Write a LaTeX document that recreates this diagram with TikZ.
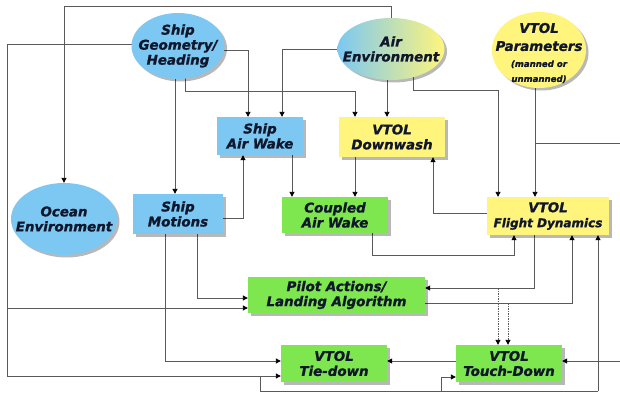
\documentclass[tikz,border=0pt]{standalone}
\usepackage{fontspec}
\setmainfont{DejaVu Sans}[BoldItalicFeatures={FakeBold=1.2}]
\usetikzlibrary{arrows.meta,shapes.geometric,shadows,backgrounds}

\definecolor{skyfill}{HTML}{7CC8F2}
\definecolor{lemonfill}{HTML}{FFF57C}
\definecolor{limefill}{HTML}{7EE64F}
\definecolor{inkcol}{HTML}{10162B}
\definecolor{wirecol}{HTML}{5A5A5A}

\tikzset{
  lbl/.style={font=\fontsize{13.4}{15}\selectfont\bfseries\itshape,
    text=inkcol, align=center, inner sep=0pt},
  softshadow/.style={drop shadow={shadow xshift=2.5pt, shadow yshift=-2.5pt,
    fill=black, opacity=0.28}},
  boxnode/.style={lbl, rectangle, softshadow},
  bluebox/.style={boxnode, fill=skyfill},
  yellowbox/.style={boxnode, fill=lemonfill},
  greenbox/.style={boxnode, fill=limefill},
  ovalnode/.style={ellipse, inner sep=0pt, softshadow},
  line/.style={draw=wirecol, line width=0.9pt},
  wire/.style={line, -{Triangle[length=5pt,width=5pt,color=black]}},
  dotwire/.style={wire, dash pattern=on 1.5pt off 1pt},
}

\begin{document}
\begin{tikzpicture}[x=1pt,y=-1pt]
\useasboundingbox (0,0) rectangle (620,393);

% ---- sources (ellipses) ----
\node[ovalnode, fill=skyfill, minimum width=93pt, minimum height=66pt,
  label={[lbl]center:{Ship\\Geometry/\\Heading}}] (geo) at (178,46) {};
\node[ovalnode, left color=skyfill, right color=lemonfill,
  minimum width=107pt, minimum height=62pt,
  label={[lbl]center:{Air\\Environment}}] (air) at (391,49) {};
\node[ovalnode, fill=lemonfill, minimum width=94pt, minimum height=76pt,
  label={[lbl, yshift=-3pt]center:{VTOL\\[3pt]Parameters\\[1pt]\fontsize{8.6}{10.5}\selectfont(manned or\\\fontsize{8.6}{10.5}\selectfont unmanned)}}] (par) at (539,50) {};
\node[ovalnode, fill=skyfill, minimum width=106pt, minimum height=72pt,
  label={[lbl]center:{Ocean\\Environment}}] (ocean) at (64,219) {};

% ---- process boxes ----
\node[bluebox, minimum width=86pt, minimum height=38pt] (saw) at (260,136) {Ship\\Air Wake};
\node[yellowbox, minimum width=106pt, minimum height=40pt] (dw) at (392,137) {VTOL\\Downwash};
\node[bluebox, minimum width=90pt, minimum height=40pt] (sm) at (178,214) {Ship\\Motions};
\node[greenbox, minimum width=106pt, minimum height=36pt] (caw) at (335,215) {Coupled\\Air Wake};
\node[yellowbox, minimum width=122pt, minimum height=38pt] (fd) at (548,216)
  {VTOL\\\fontsize{12}{14}\selectfont Flight Dynamics};
\node[greenbox, minimum width=177pt, minimum height=36pt] (pil) at (336.5,295) {Pilot Actions/\\Landing Algorithm};
\node[greenbox, minimum width=106pt, minimum height=37pt] (tie) at (334,363.5) {VTOL\\Tie-down};
\node[greenbox, minimum width=106pt, minimum height=37pt] (td) at (509,363.5) {VTOL\\Touch-Down};

% ---- junction points of the wiring ----
\coordinate (spineTop) at (7,44);
\coordinate (spineBot) at (7,376);
\coordinate (spinePil) at (7,308);
\coordinate (railStart) at (260,376);
\coordinate (railTd) at (441,391);
\coordinate (railFd) at (598,391);
\coordinate (fdPilTap) at (498,288);
\coordinate (pilFdTap) at (508,303);
\coordinate (parTap) at (535,143);

\begin{pgfonlayer}{background}
\fill[white] (0,0) rectangle (620,393);
\clip (0,0) rectangle (620,393);

% air environment over the top to the ocean model
\draw[wire] (air.north) -- (air.north |- 0,6) -- (ocean.north |- 0,6) -- (ocean.north);

% ship geometry: left spine to pilot, tie-down, touch-down and flight dynamics
\draw[wire] (geo.center |- spineTop) -- (spineTop) -- (spineBot) -- (tie.west |- spineBot);
\draw[wire] (spinePil) -- (pil.west |- spinePil);
\draw[line] (railStart) -- (railStart |- railFd) -- (railFd);
\draw[wire] (railTd) -- (441,377) -- (td.west |- 0,377);
\draw[wire] (railFd) -- (fd.south -| railFd);

% ship geometry downwards
\draw[wire] (geo.center -| 175,0) -- (sm.north -| 175,0);
\draw[wire] (geo.center |- 0,50) -- (248,50) -- (saw.north -| 248,0);
\draw[wire] (geo.center -| 185,0) -- (185,91) -- (355,91) -- (dw.north -| 355,0);

% air environment downwards
\draw[wire] (air.center) -- (282,49) -- (saw.north -| 282,0);
\draw[wire] (air.center -| 387,0) -- (dw.north -| 387,0);
\draw[wire] (air.center -| 413,0) -- (413,90) -- (498,90) -- (fd.north -| 498,0);

% vehicle parameters
\draw[wire] (par.center -| parTap) -- (fd.north -| parTap);
\draw[wire] (parTap) -- (630,143) -- (630,361) -- (td.east |- 0,361);

% ship motions
\draw[wire] (sm.center |- 0,218) -- (243,218) -- (saw.south -| 243,0);
\draw[wire] (sm.center -| 197,0) -- (197,298) -- (pil.west |- 0,298);
\draw[wire] (sm.center -| 165,0) -- (165,361) -- (tie.west |- 0,361);

% wakes and downwash
\draw[wire] (saw.center -| 292,0) -- (caw.north -| 292,0);
\draw[wire] (dw.center -| 355,0) -- (caw.north -| 355,0);
\draw[wire] (fd.center |- 0,213) -- (433,213) -- (dw.south -| 433,0);
\draw[wire] (caw.center -| 372,0) -- (372,255) -- (514,255) -- (fd.south -| 514,0);

% flight dynamics <-> pilot
\draw[wire] (fd.center -| 534,0) -- (534,288) -- (pil.east |- fdPilTap);
\draw[wire] (pil.center |- pilFdTap) -- (572,303) -- (fd.south -| 572,0);
\draw[dotwire] (fdPilTap) -- (td.north -| fdPilTap);
\draw[dotwire] (pilFdTap) -- (td.north -| pilFdTap);

% touch-down to tie-down
\draw[wire] (td.center |- 0,361) -- (tie.east |- 0,361);
\end{pgfonlayer}
\end{tikzpicture}
\end{document}
